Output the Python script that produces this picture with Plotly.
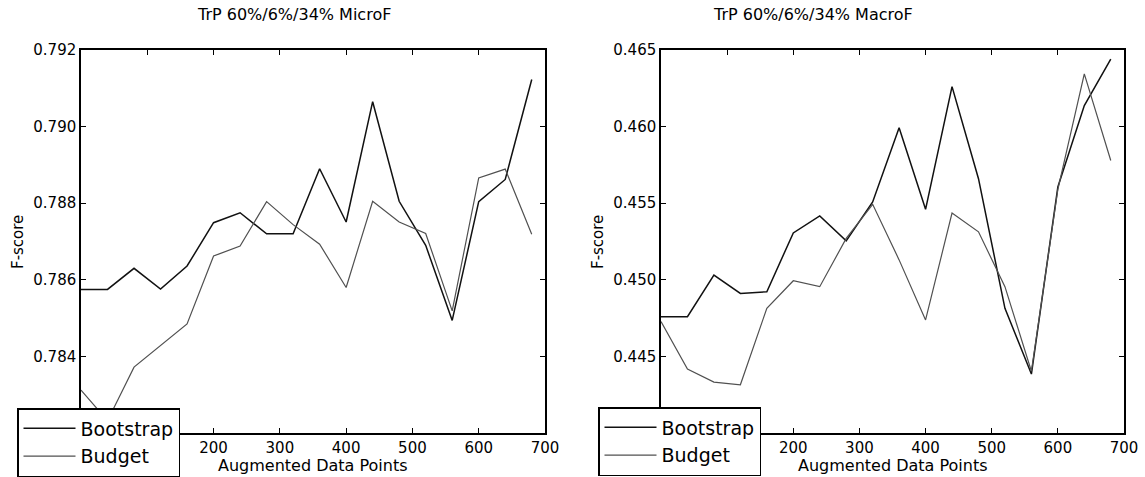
import plotly.graph_objects as go

x_points = [0, 40, 80, 120, 160, 200, 240, 280, 320, 360, 400, 440, 480, 520, 560, 600, 640, 680]

micro_bootstrap = [0.78575, 0.78575, 0.7863, 0.78576, 0.78636, 0.78749, 0.78775, 0.7872, 0.7872,
                   0.7889, 0.78751, 0.79065, 0.78805, 0.7869, 0.78494, 0.78804, 0.78862, 0.79123]
micro_budget = [0.78312, 0.78232, 0.78372, 0.78429, 0.78485, 0.78662, 0.78688, 0.78804, 0.78744,
                0.78693, 0.7858, 0.78805, 0.78751, 0.78721, 0.78519, 0.78866, 0.78889, 0.78719]

macro_bootstrap = [0.44759, 0.44759, 0.45031, 0.44911, 0.44922, 0.45306, 0.45417, 0.45254, 0.45508,
                   0.45992, 0.4546, 0.46261, 0.4566, 0.44814, 0.44385, 0.45606, 0.46137, 0.46441]
macro_budget = [0.44727, 0.44417, 0.44332, 0.44315, 0.44814, 0.44994, 0.44955, 0.4527, 0.45493,
                0.4513, 0.44738, 0.45436, 0.45313, 0.44955, 0.44403, 0.4559, 0.46344, 0.45779]

titles = ["TrP 60%/6%/34% MicroF", "TrP 60%/6%/34% MacroF"]
series_names = ["Bootstrap", "Budget"]
x_label = "Augmented Data Points"
y_label = "F-score"
x_ticks = [0, 100, 200, 300, 400, 500, 600, 700]
micro_ticks = [0.782, 0.784, 0.786, 0.788, 0.790, 0.792]
macro_ticks = [0.440, 0.445, 0.450, 0.455, 0.460, 0.465]

W, H = 1145, 477
FONT = "DejaVu Sans"
BOOT_STYLE = dict(color="#111111", width=1.5)
BUDG_STYLE = dict(color="#505050", width=1.2)

fig = go.Figure()
fig.add_trace(go.Scatter(x=x_points, y=micro_bootstrap, mode="lines", name=series_names[0],
                         line=BOOT_STYLE, xaxis="x", yaxis="y", legend="legend"))
fig.add_trace(go.Scatter(x=x_points, y=micro_budget, mode="lines", name=series_names[1],
                         line=BUDG_STYLE, xaxis="x", yaxis="y", legend="legend"))
fig.add_trace(go.Scatter(x=x_points, y=macro_bootstrap, mode="lines", name=series_names[0],
                         line=BOOT_STYLE, xaxis="x2", yaxis="y2", legend="legend2"))
fig.add_trace(go.Scatter(x=x_points, y=macro_budget, mode="lines", name=series_names[1],
                         line=BUDG_STYLE, xaxis="x2", yaxis="y2", legend="legend2"))

def px_x(p):
    return p / W

def px_y(p):
    return 1 - p / H

axis_common = dict(showline=True, linecolor="black", linewidth=1.5, mirror="allticks",
                   ticks="inside", ticklen=5, tickwidth=1, tickcolor="black",
                   showgrid=False, zeroline=False, automargin=False,
                   tickfont=dict(family=FONT, size=15, color="black"))

ydom = [px_y(433), px_y(50)]
legend_common = dict(xanchor="left", yanchor="top", bgcolor="white", bordercolor="black",
                     borderwidth=1.5, font=dict(family=FONT, size=19, color="black"),
                     tracegroupgap=0, itemwidth=52)
fig.update_layout(
    width=W, height=H,
    margin=dict(l=0, r=0, t=0, b=0, autoexpand=False),
    paper_bgcolor="white", plot_bgcolor="white",
    font=dict(family=FONT, color="black"),
    xaxis=dict(domain=[px_x(81), px_x(545)], range=[0, 700], tickvals=x_ticks,
               anchor="y", **axis_common),
    yaxis=dict(domain=ydom, range=[0.782, 0.792], tickvals=micro_ticks, tickformat=".3f",
               anchor="x", **axis_common),
    xaxis2=dict(domain=[px_x(661), px_x(1124)], range=[0, 700], tickvals=x_ticks,
                anchor="y2", **axis_common),
    yaxis2=dict(domain=ydom, range=[0.440, 0.465], tickvals=macro_ticks, tickformat=".3f",
                anchor="x2", **axis_common),
    legend=dict(x=px_x(17), y=px_y(408), **legend_common),
    legend2=dict(x=px_x(598), y=px_y(407), **legend_common),
)

annotations = [
    dict(text=titles[0], x=px_x(294), y=px_y(15), xref="paper", yref="paper",
         showarrow=False, font=dict(family=FONT, size=16, color="black"),
         xanchor="center", yanchor="middle"),
    dict(text=titles[1], x=px_x(813), y=px_y(15), xref="paper", yref="paper",
         showarrow=False, font=dict(family=FONT, size=16, color="black"),
         xanchor="center", yanchor="middle"),
    dict(text=x_label, x=px_x(313), y=px_y(465), xref="paper", yref="paper",
         showarrow=False, font=dict(family=FONT, size=16, color="black"),
         xanchor="center", yanchor="middle"),
    dict(text=x_label, x=px_x(893), y=px_y(465), xref="paper", yref="paper",
         showarrow=False, font=dict(family=FONT, size=16, color="black"),
         xanchor="center", yanchor="middle"),
    dict(text=y_label, x=px_x(18), y=px_y(242), xref="paper", yref="paper",
         showarrow=False, textangle=-90, font=dict(family=FONT, size=15, color="black"),
         xanchor="center", yanchor="middle"),
    dict(text=y_label, x=px_x(598), y=px_y(242), xref="paper", yref="paper",
         showarrow=False, textangle=-90, font=dict(family=FONT, size=15, color="black"),
         xanchor="center", yanchor="middle"),
]
fig.update_layout(annotations=annotations)

fig.write_html("out.html", config={"responsive": False, "displayModeBar": False},
               post_script="document.body.style.margin='0';document.body.style.overflow='hidden';")
